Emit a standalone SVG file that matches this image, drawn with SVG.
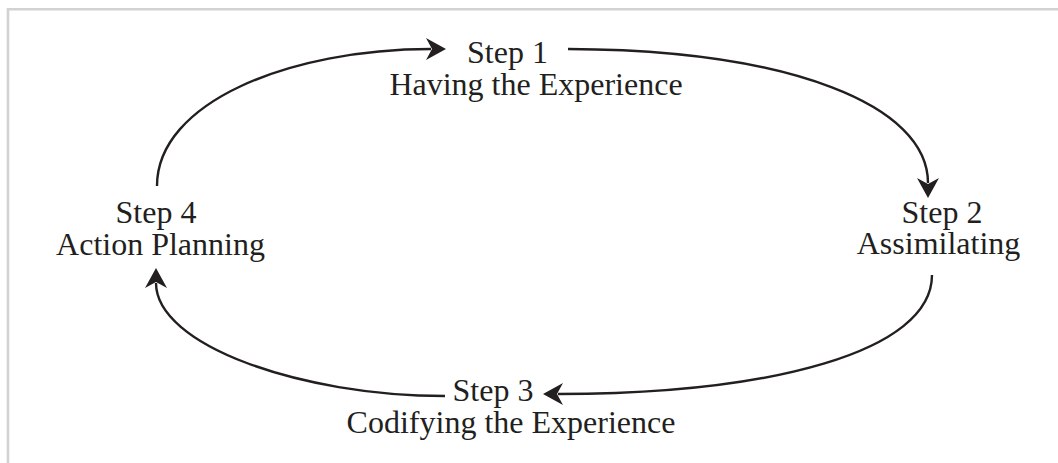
<svg xmlns="http://www.w3.org/2000/svg" width="1058" height="463" viewBox="0 0 1058 463">
  <style>
    .lbl { font-family: "Liberation Serif", "Times New Roman", serif; font-size: 32px; fill: #231f20; text-anchor: middle; }
    .conn { fill: none; stroke: #231f20; stroke-width: 2.4; }
    .frame { fill: none; stroke: #d2d2d2; stroke-width: 2.6; }
  </style>
  <defs>
    <marker id="arr" markerUnits="userSpaceOnUse" markerWidth="30" markerHeight="30" viewBox="-10 -15 30 30" refX="0" refY="0" orient="auto">
      <path d="M15,0 L-5,-11 L1,0 L-5,11 Z" fill="#231f20"/>
    </marker>
  </defs>
  <rect width="1058" height="463" fill="#ffffff"/>
  <path class="frame" d="M8,463 V9.3 H1058"/>
  <g id="connectors">
    <path class="conn" d="M157,186 C157,102 290,49 431,49" marker-end="url(#arr)"/>
    <path class="conn" d="M568,49 C790,50 928,105 928,183" marker-end="url(#arr)"/>
    <path class="conn" d="M932,275 C932,352 770,394 558,394" marker-end="url(#arr)"/>
    <path class="conn" d="M445,396 C300,396 156,345 156,283" marker-end="url(#arr)"/>
  </g>
  <g id="step1">
    <text class="lbl" x="507.5" y="63">Step 1</text>
    <text class="lbl" x="536" y="95">Having the Experience</text>
  </g>
  <g id="step2">
    <text class="lbl" x="942" y="223">Step 2</text>
    <text class="lbl" x="938.5" y="254">Assimilating</text>
  </g>
  <g id="step3">
    <text class="lbl" x="493" y="401">Step 3</text>
    <text class="lbl" x="511" y="433">Codifying the Experience</text>
  </g>
  <g id="step4">
    <text class="lbl" x="156" y="223">Step 4</text>
    <text class="lbl" x="160.5" y="255">Action Planning</text>
  </g>
</svg>
